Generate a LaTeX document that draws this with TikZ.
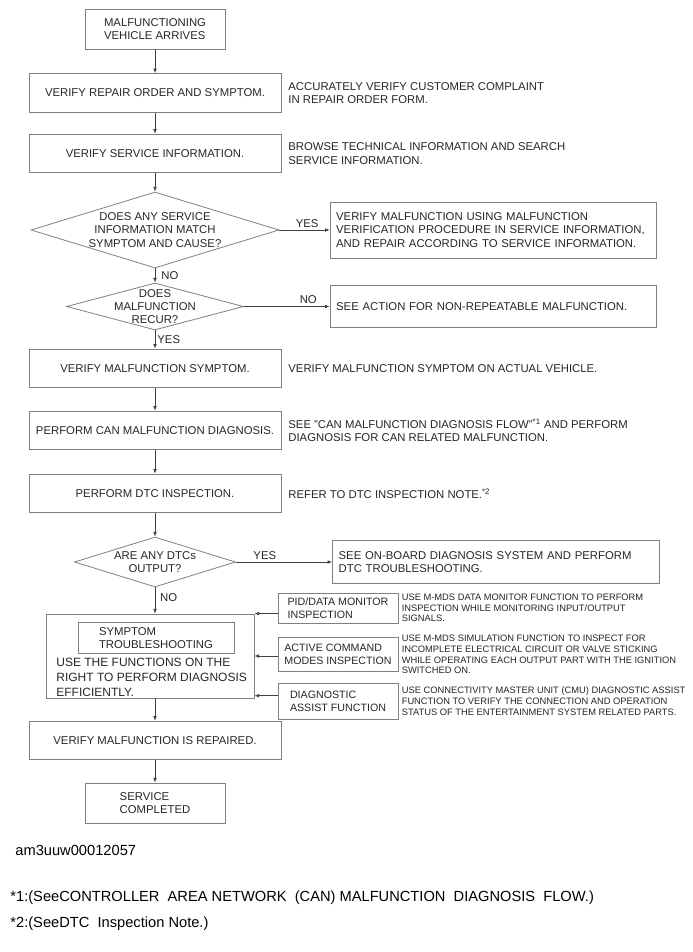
\documentclass[tikz,border=0pt]{standalone}
\usepackage{fontspec}
\setmainfont{Liberation Sans}
\usetikzlibrary{arrows.meta,shapes.geometric}

\begin{document}
\begin{tikzpicture}[x=0.75pt, y=-0.75pt, font=\fontsize{8.5}{10}\selectfont, line width=0.6pt, text=black!85,
	flow/.style={draw=black!75, -{Latex[length=3.5pt,width=2.8pt]}},
	stepbox/.style={draw=black!50, minimum width=189pt, minimum height=29pt, inner sep=1pt, align=center},
	endbox/.style={draw=black!50, minimum width=105pt, minimum height=30pt, align=left},
	askbox/.style={draw=black!50, diamond, inner sep=0pt},
	infobox/.style={draw=black!50, text width=236pt, inner xsep=4.5pt, align=left},
	toolbox/.style={draw=black!50, minimum width=90pt, inner xsep=1.5pt, align=left, font=\fontsize{8}{9.5}\selectfont},
	note/.style={anchor=west, align=left, inner sep=0pt},
	tinynote/.style={note, font=\fontsize{7}{8}\selectfont},
	tag/.style={inner sep=1.5pt},
	foot/.style={anchor=west, inner sep=0pt, text=black, font=\fontsize{11}{13}\selectfont}]
	\useasboundingbox (0,0) rectangle (692,952);
	\node[endbox] (arrive) at (155,29) {MALFUNCTIONING\\VEHICLE ARRIVES};
	\node[stepbox] (order) at (155,93) {VERIFY REPAIR ORDER AND SYMPTOM.};
	\node[note] (ordernote) at (288,93) {ACCURATELY VERIFY CUSTOMER COMPLAINT\\IN REPAIR ORDER FORM.};
	\node[stepbox] (info) at (155,153.5) {VERIFY SERVICE INFORMATION.};
	\node[note] (infonote) at (288,153.5) {BROWSE TECHNICAL INFORMATION AND SEARCH\\SERVICE INFORMATION.};
	\node[askbox, minimum width=186pt, minimum height=57pt] (match) at (155,230) {};
	\node[align=center] (matchtxt) at (match) {DOES ANY SERVICE\\INFORMATION MATCH\\SYMPTOM AND CAUSE?};
	\node[infobox, minimum height=42pt] (verify) at (493.5,230) {VERIFY MALFUNCTION USING MALFUNCTION\\VERIFICATION PROCEDURE IN SERVICE INFORMATION,\\AND REPAIR ACCORDING TO SERVICE INFORMATION.};
	\node[askbox, minimum width=132.75pt, minimum height=35.25pt] (recur) at (155,306.5) {};
	\node[align=center] (recurtxt) at (recur) {DOES\\MALFUNCTION\\RECUR?};
	\node[infobox, minimum height=32pt] (nonrep) at (493.5,306.5) {SEE ACTION FOR NON-REPEATABLE MALFUNCTION.};
	\node[stepbox] (sym) at (155,368.5) {VERIFY MALFUNCTION SYMPTOM.};
	\node[note] (symnote) at (288,368.5) {VERIFY MALFUNCTION SYMPTOM ON ACTUAL VEHICLE.};
	\node[stepbox] (can) at (155,430.5) {PERFORM CAN MALFUNCTION DIAGNOSIS.};
	\node[note] (cannote) at (288,430.5) {SEE "CAN MALFUNCTION DIAGNOSIS FLOW"\textsuperscript{*1} AND PERFORM\\DIAGNOSIS FOR CAN RELATED MALFUNCTION.};
	\node[stepbox] (dtc) at (155,493.5) {PERFORM DTC INSPECTION.};
	\node[note] (dtcnote) at (288,493.5) {REFER TO DTC INSPECTION NOTE.\textsuperscript{*2}};
	\node[askbox, minimum width=120.75pt, minimum height=37.5pt] (dtcq) at (155,562) {};
	\node[align=center] (dtcqtxt) at (dtcq) {ARE ANY DTCs\\OUTPUT?};
	\node[infobox, minimum height=32pt] (onboard) at (496,562) {SEE ON-BOARD DIAGNOSIS SYSTEM AND PERFORM\\DTC TROUBLESHOOTING.};
	\node[draw=black!50, minimum width=156pt, minimum height=63pt] (trbl) at (150,656) {};
	\node[draw=black!50, minimum width=117pt, minimum height=22.5pt, align=left] (symp) at (156,638) {SYMPTOM\\TROUBLESHOOTING};
	\node[note, font=\fontsize{9}{11}\selectfont] (usefn) at (56,677.5) {USE THE FUNCTIONS ON THE\\RIGHT TO PERFORM DIAGNOSIS\\EFFICIENTLY.};
	\node[toolbox, minimum height=22.5pt] (pid) at (338,608) {PID/DATA MONITOR\\INSPECTION};
	\node[tinynote] (pidnote) at ([xshift=2.25pt]pid.east) {USE M-MDS DATA MONITOR FUNCTION TO PERFORM\\INSPECTION WHILE MONITORING INPUT/OUTPUT\\SIGNALS.};
	\node[toolbox, minimum height=25pt] (acm) at (338,654.5) {ACTIVE COMMAND\\MODES INSPECTION};
	\node[tinynote] (acmnote) at ([xshift=2.25pt]acm.east) {USE M-MDS SIMULATION FUNCTION TO INSPECT FOR\\INCOMPLETE ELECTRICAL CIRCUIT OR VALVE STICKING\\WHILE OPERATING EACH OUTPUT PART WITH THE IGNITION\\SWITCHED ON.};
	\node[toolbox, minimum height=27pt] (dat) at (338,701) {DIAGNOSTIC\\ASSIST FUNCTION};
	\node[tinynote] (datnote) at ([xshift=2.25pt]dat.east) {USE CONNECTIVITY MASTER UNIT (CMU) DIAGNOSTIC ASSIST\\FUNCTION TO VERIFY THE CONNECTION AND OPERATION\\STATUS OF THE ENTERTAINMENT SYSTEM RELATED PARTS.};
	\node[stepbox] (fixed) at (155,740.5) {VERIFY MALFUNCTION IS REPAIRED.};
	\node[endbox] (done) at (155,803) {SERVICE\\COMPLETED};
	\node[foot] (figid) at (15,850) {am3uuw00012057};
	\node[foot] (fn1) at (10,898) {*1:(SeeCONTROLLER\ \ AREA NETWORK\ \ (CAN) MALFUNCTION\ \ DIAGNOSIS\ \ FLOW.)};
	\node[foot] (fn2) at (10,924) {*2:(SeeDTC\ \ Inspection Note.)};
	\coordinate (tipc) at ([yshift=2pt]trbl.south east);
	\draw[flow] (arrive) -- (order);
	\draw[flow] (order) -- (info);
	\draw[flow] (info) -- (match);
	\draw[flow] (match) -- node[tag, above, pos=0.55] {YES} (verify);
	\draw[flow] (match) -- node[tag, right, xshift=3pt] {NO} (recur);
	\draw[flow] (recur) -- node[tag, above, pos=0.75] {NO} (nonrep);
	\draw[flow] (recur) -- node[tag, right] {YES} (sym);
	\draw[flow] (sym) -- (can);
	\draw[flow] (can) -- (dtc);
	\draw[flow] (dtc) -- (dtcq);
	\draw[flow] (dtcq) -- node[tag, above, pos=0.3] {YES} (onboard);
	\draw[flow] (dtcq.south) -- node[tag, right, pos=0.4, xshift=2pt] {NO} (dtcq.south |- trbl.north);
	\draw[flow] (pid.west |- trbl.north east) -- (trbl.north east);
	\draw[flow] (acm.west |- trbl.east) -- (trbl.east);
	\draw[flow] (dat.west |- tipc) -- (tipc);
	\draw[flow] (fixed.north |- trbl.south) -- (fixed);
	\draw[flow] (fixed) -- (done);
\end{tikzpicture}
\end{document}
